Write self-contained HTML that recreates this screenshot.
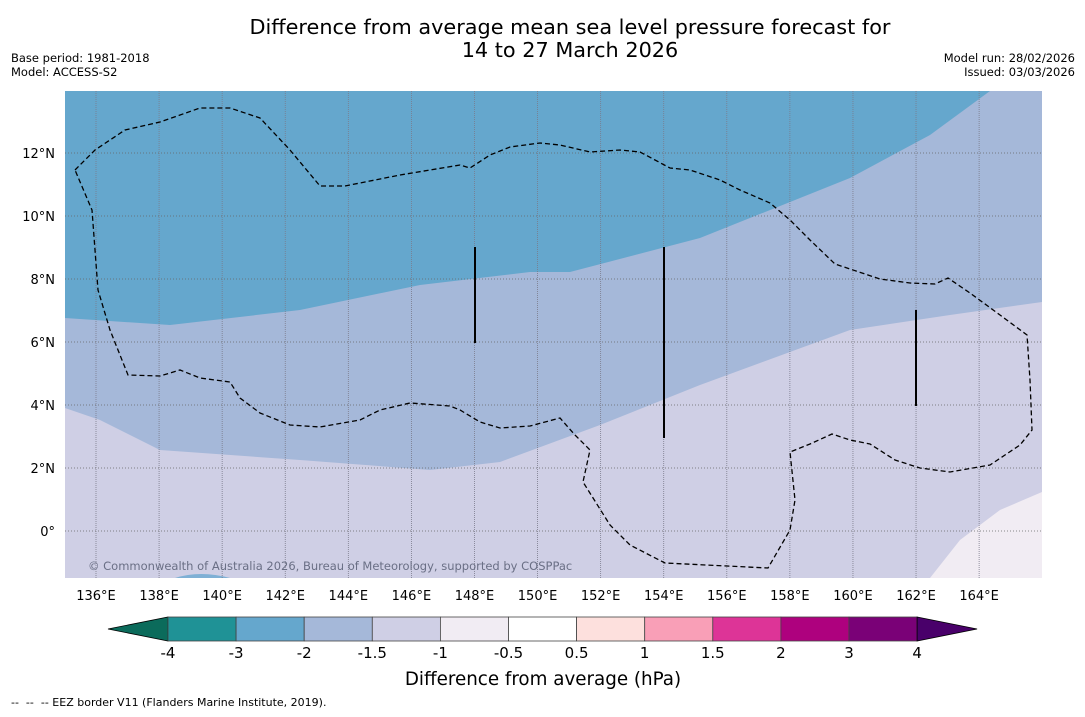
<!DOCTYPE html>
<html><head><meta charset="utf-8">
<style>
body{margin:0;background:#fff;width:1085px;height:713px;overflow:hidden;font-family:"DejaVu Sans","Liberation Sans",sans-serif;}
</style></head>
<body>
<svg id="svg" width="1085" height="713" xmlns="http://www.w3.org/2000/svg" font-family="DejaVu Sans, Liberation Sans, sans-serif">
<text x="570" y="34" font-size="20.8" text-anchor="middle">Difference from average mean sea level pressure forecast for</text>
<text x="570" y="57" font-size="20.8" text-anchor="middle">14 to 27 March 2026</text>
<text x="11" y="62" font-size="11.5">Base period: 1981-2018</text>
<text x="11" y="76" font-size="11.5">Model: ACCESS-S2</text>
<text x="1075" y="62" font-size="11.5" text-anchor="end">Model run: 28/02/2026</text>
<text x="1075" y="76" font-size="11.5" text-anchor="end">Issued: 03/03/2026</text>
<defs><clipPath id="mc"><rect x="65" y="91" width="977" height="487"/></clipPath></defs>
<g clip-path="url(#mc)">
<rect x="65" y="91" width="977" height="487" fill="#cfcfe5"/>
<path d="M65,91 L1042,91 L1042,302 L950,315 L850,330 L700,385 L600,425 L500,462 L430,470 L300,460 L160,450 L100,420 L65,408 Z" fill="#a5b8d9"/>
<path d="M65,91 L990,91 L930,135 L850,178 L700,238 L570,272 L530,272 L420,285 L300,310 L170,325 L65,318 Z" fill="#65a7cd"/>
<path d="M930,578 L960,540 L1000,510 L1042,492 L1042,578 Z" fill="#f1ecf3"/>
<path d="M175,578 Q200,570 230,578 Z" fill="#7fb0d5"/>
<g id="grid"></g>
<path d="M75,170 L95,150 L125,130 L160,122 L200,108 L230,108 L260,118 L290,150 L320,186 L345,186 L400,175 L460,165 L470,168 L490,155 L510,147 L540,143 L560,145 L590,152 L620,150 L640,152 L670,168 L690,170 L720,180 L740,190 L770,203 L790,220 L810,240 L835,264 L880,279 L910,283 L935,284 L948,278 L970,293 L1000,315 L1027,335 L1030,380 L1032,430 L1020,445 L990,465 L950,472 L920,468 L895,460 L870,444 L850,440 L832,434 L810,444 L790,452 L795,500 L790,530 L768,568 L665,563 L630,545 L610,525 L583,482 L590,450 L575,435 L560,418 L530,426 L500,428 L480,422 L460,410 L450,406 L410,403 L380,410 L360,420 L320,427 L290,425 L260,413 L240,398 L230,382 L200,378 L180,370 L160,376 L128,375 L110,330 L98,290 L92,210 L75,170 Z" fill="none" stroke="#000" stroke-width="1.3" stroke-dasharray="5,3"/>
<line x1="475" y1="247" x2="475" y2="343" stroke="#000" stroke-width="2"/>
<line x1="664" y1="247" x2="664" y2="438" stroke="#000" stroke-width="2"/>
<line x1="916" y1="310" x2="916" y2="406" stroke="#000" stroke-width="2"/>
<text x="88" y="570" font-size="11.5" fill="#6a6f85">© Commonwealth of Australia 2026, Bureau of Meteorology, supported by COSPPac</text>
</g>
<g id="axes"></g>
<g id="cbar"></g>
<text x="543" y="685" font-size="18.3" text-anchor="middle">Difference from average (hPa)</text>
<text x="11" y="706" font-size="11" xml:space="preserve" style="white-space:pre">--  --  -- EEZ border V11 (Flanders Marine Institute, 2019).</text>
</svg>
<script>
const lonTicks=[136,138,140,142,144,146,148,150,152,154,156,158,160,162,164];
const latTicks=[0,2,4,6,8,10,12];
const cbLabels=["-4","-3","-2","-1.5","-1","-0.5","0.5","1","1.5","2","3","4"];
const cbColors=["#1f9296","#65a7cd","#a5b8d9","#cfcfe5","#f1ecf3","#ffffff","#fde0dd","#f99fb7","#dd3497","#ae017e","#7a0177"];
const NS="http://www.w3.org/2000/svg";
const xs=lon=>96+(lon-136)*31.54;
const ys=lat=>531-lat*31.5;
function mk(t,a,p){const e=document.createElementNS(NS,t);for(const k in a)e.setAttribute(k,a[k]);p.appendChild(e);return e;}
const grid=document.getElementById('grid'),axes=document.getElementById('axes'),cb=document.getElementById('cbar');
lonTicks.forEach(l=>{const e=mk('line',{x1:xs(l),x2:xs(l),y1:91,y2:578,stroke:'#7a7a8a','stroke-width':0.8,'stroke-dasharray':'1,1'},grid);


const t=mk('text',{x:xs(l),y:600,'font-size':13,'text-anchor':'middle'},axes);t.textContent=l+'°E';

});
latTicks.forEach(l=>{const e=mk('line',{x1:65,x2:1042,y1:ys(l),y2:ys(l),stroke:'#666','stroke-width':0.8,'stroke-dasharray':'1,2'},grid);


const t=mk('text',{x:55,y:ys(l)+5,'font-size':13,'text-anchor':'end'},axes);t.textContent=l===0?'0°':l+'°N';

});
const cx0=168,cw=68.1,cy=617,ch=24;
let tr=mk('polygon',{points:`108,${cy+ch/2} ${cx0},${cy} ${cx0},${cy+ch}`,fill:'#0b6b5b',stroke:'#000','stroke-width':0.8},cb);


cbColors.forEach((c,i)=>{const r=mk('rect',{x:cx0+i*cw,y:cy,width:cw,height:ch,fill:c,stroke:'#444','stroke-width':0.8},cb);

});
const xe=cx0+cbColors.length*cw;
tr=mk('polygon',{points:`${xe},${cy} ${xe+60},${cy+ch/2} ${xe},${cy+ch}`,fill:'#49006a',stroke:'#000','stroke-width':0.8},cb);


cbLabels.forEach((s,i)=>{const t=mk('text',{x:cx0+i*cw,y:658,'font-size':15,'text-anchor':'middle'},cb);t.textContent=s;

});
</script>
</body></html>
